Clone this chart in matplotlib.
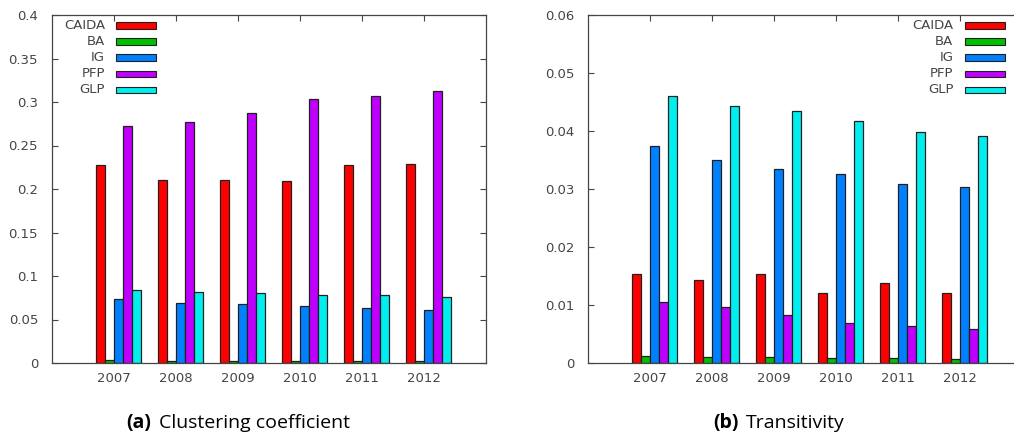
#!/usr/bin/env python3
"""Clustering coefficient / transitivity per year, gnuplot-like clustered bars."""
import numpy as np
import matplotlib
matplotlib.use('Agg')
import matplotlib.pyplot as plt
from matplotlib.patches import Rectangle

YEARS = ['2007', '2008', '2009', '2010', '2011', '2012']
SERIES = ['CAIDA', 'BA', 'IG', 'PFP', 'GLP']
COLORS = ['#ff0000', '#00c000', '#0080ff', '#c000ff', '#00eeee']

# (a) clustering coefficient
CLUST_CAIDA = [0.2275, 0.2106, 0.2106, 0.2087, 0.2275, 0.2283]
CLUST_BA    = [0.0039, 0.0028, 0.0028, 0.0028, 0.0028, 0.0020]
CLUST_IG    = [0.0733, 0.0695, 0.0683, 0.0660, 0.0637, 0.0614]
CLUST_PFP   = [0.2724, 0.2770, 0.2870, 0.3030, 0.3065, 0.3130]
CLUST_GLP   = [0.0837, 0.0821, 0.0810, 0.0787, 0.0779, 0.0764]

# (b) transitivity
TRANS_CAIDA = [0.01543, 0.01427, 0.01543, 0.01215, 0.01387, 0.01215]
TRANS_BA    = [0.00116, 0.00098, 0.00098, 0.00081, 0.00081, 0.00070]
TRANS_IG    = [0.03734, 0.03492, 0.03348, 0.03251, 0.03089, 0.03032]
TRANS_PFP   = [0.01060, 0.00961, 0.00828, 0.00697, 0.00633, 0.00587]
TRANS_GLP   = [0.04608, 0.04435, 0.04349, 0.04165, 0.03976, 0.03907]

CLUST_TICKS = [0, 0.05, 0.1, 0.15, 0.2, 0.25, 0.3, 0.35, 0.4]
CLUST_TICKLABELS = ['0', '0.05', '0.1', '0.15', '0.2', '0.25', '0.3', '0.35', '0.4']
TRANS_TICKS = [0, 0.01, 0.02, 0.03, 0.04, 0.05, 0.06]
TRANS_TICKLABELS = ['0', '0.01', '0.02', '0.03', '0.04', '0.05', '0.06']

GRAY = '#454545'
BW = 1 / 7


def draw_panel(ax, data, ymax, ticks, ticklabels, leg_x):
    x = np.arange(len(YEARS))
    for k, (vals, col) in enumerate(zip(data, COLORS)):
        ax.bar(x - 2 * BW + k * BW, vals, width=BW, align='edge',
               color=col, edgecolor='#202020', linewidth=0.9, zorder=2)
    ax.set_xlim(-1, 6)
    ax.set_ylim(0, ymax)
    ax.set_xticks(x)
    ax.set_xticklabels(YEARS)
    ax.set_yticks(ticks)
    ax.set_yticklabels(ticklabels)
    ax.tick_params(direction='in', length=4, width=0.8, color=GRAY,
                   labelcolor=GRAY, labelsize=9.5, top=True, right=True)
    ax.tick_params(axis='y', pad=10)
    ax.tick_params(axis='x', pad=6.5)
    for s in ax.spines.values():
        s.set_color(GRAY)
        s.set_linewidth(0.9)
    # legend: label then swatch, like gnuplot's key
    lx, sx = leg_x
    for i, (name, col) in enumerate(zip(SERIES, COLORS)):
        yy = 0.969 - i * 0.046
        ax.text(lx, yy, name, transform=ax.transAxes, ha='right', va='center',
                fontsize=9.5, color=GRAY)
        ax.add_patch(Rectangle((sx, yy - 0.0095), 0.092, 0.019, transform=ax.transAxes,
                               facecolor=col, edgecolor='#202020', linewidth=0.8,
                               zorder=5))


fig = plt.figure(figsize=(10.14, 4.37), dpi=100)
ax1 = fig.add_axes([52 / 1014, 74 / 437, 434 / 1014, 348 / 437])
ax2 = fig.add_axes([588 / 1014, 74 / 437, 434 / 1014, 348 / 437])

draw_panel(ax1, [CLUST_CAIDA, CLUST_BA, CLUST_IG, CLUST_PFP, CLUST_GLP], 0.4,
           CLUST_TICKS, CLUST_TICKLABELS, (0.122, 0.147))
draw_panel(ax2, [TRANS_CAIDA, TRANS_BA, TRANS_IG, TRANS_PFP, TRANS_GLP], 0.06,
           TRANS_TICKS, TRANS_TICKLABELS, (0.842, 0.868))

cap = dict(fontsize=14, family=['Open Sans', 'DejaVu Sans'], va='center')
fig.text(126 / 1014, 1 - 423 / 437, '(a)', fontweight='bold', ha='left', **cap)
fig.text(159 / 1014, 1 - 423 / 437, 'Clustering coefficient', ha='left', **cap)
fig.text(713 / 1014, 1 - 423 / 437, '(b)', fontweight='bold', ha='left', **cap)
fig.text(746 / 1014, 1 - 423 / 437, 'Transitivity', ha='left', **cap)

fig.savefig('out.png', dpi=100)
